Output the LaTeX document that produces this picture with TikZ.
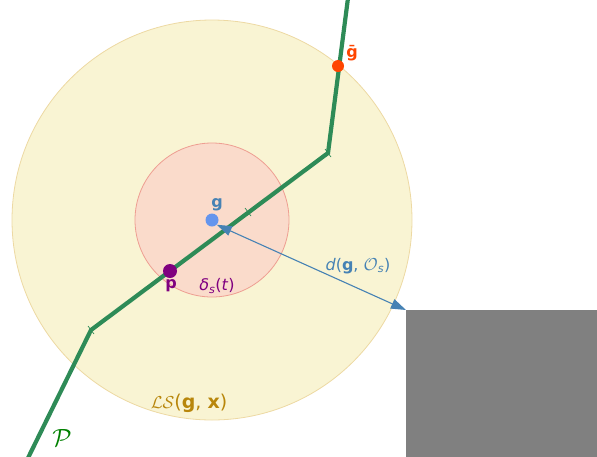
\documentclass[tikz,border=0pt]{standalone}
\usepackage{fontspec}
\setmainfont{DejaVu Sans}
\usetikzlibrary{arrows.meta, calc}
\definecolor{lsfill}{HTML}{F9F4D3}
\definecolor{lsedge}{HTML}{EDD9A3}
\definecolor{dsfill}{HTML}{FADBCB}
\definecolor{dsedge}{HTML}{EE9E92}
\definecolor{pathgreen}{HTML}{2E8B57}
\definecolor{gblue}{HTML}{6495ED}
\definecolor{steel}{HTML}{4682B4}
\definecolor{gorange}{HTML}{FF4500}
\definecolor{goldtext}{HTML}{B8860B}
\definecolor{ppurple}{HTML}{800080}
\definecolor{pgreen}{HTML}{008000}

\begin{document}
\begin{tikzpicture}[
    x=1pt, y=-1pt,
    lbl/.style={inner sep=0pt, font=\fontsize{16}{18}\selectfont},
    dot/.style={circle, inner sep=0pt, minimum size=#1},
    pathline/.style={pathgreen, line width=4.2pt},
    tick/.style={pathgreen, line width=0.7pt},
    dist/.style={{Triangle[length=15pt, width=10pt]}-{Triangle[length=15pt, width=10pt]}, steel, line width=1.1pt}
]
\useasboundingbox (0,0) rectangle (597,456);

% Regions
\fill[lsfill, draw=lsedge, line width=0.8pt] (212,220) circle (200);
\fill[dsfill, draw=dsedge, line width=0.8pt] (212,220) circle (77);
\fill[gray] (406,310) rectangle (600,460);

% Path
\coordinate (w0) at (28,458);
\coordinate (w1) at (91,330);
\coordinate (w2) at (328,153);
\coordinate (w3) at (348,-2);
\draw[pathline] (w0) -- (w1) -- (w2) -- (w3);
\foreach \pt/\ang in {(91,330)/-36.8, (248,212)/-36.8, (328,153)/-36.8}
    \draw[tick] \pt ++(\ang+90:5) -- ++(\ang-90:10);

% Points
\node[dot=13pt, fill=gblue] (g) at (212,220) {};
\node[dot=14pt, fill=ppurple] (p) at (170,271) {};
\node[dot=12pt, fill=gorange] (gbar) at (338,66) {};
\coordinate (obs) at (406,310);

% Distance to obstacle
\draw[dist] (g.south east) -- (obs);

% Labels
\node[lbl, text=steel] (glbl) at (217,205) {\textbf{g}};
\node[lbl, text=ppurple] (plbl) at (171,286) {\textbf{p}};
\node[lbl, text=gorange] (gbarlbl) at (352,53) {\textbf{ḡ}};
\node[lbl, text=ppurple] (dslbl) at (217,286) {\textit{δ}\textsubscript{\textit{s}}(\textit{t})};
\node[lbl, text=steel] (dlbl) at (358,266) {\textit{d}(\textbf{g}, $\mathcal{O}$\textsubscript{\textit{s}})};
\node[lbl, text=goldtext, font=\fontsize{19}{21}\selectfont] (lslbl) at (189,403) {$\mathcal{L}\mathcal{S}$(\textbf{g}, \textbf{x})};
\node[lbl, text=pgreen, font=\fontsize{26}{28}\selectfont] (plabel) at (62,438) {$\mathcal{P}$};
\end{tikzpicture}
\end{document}
